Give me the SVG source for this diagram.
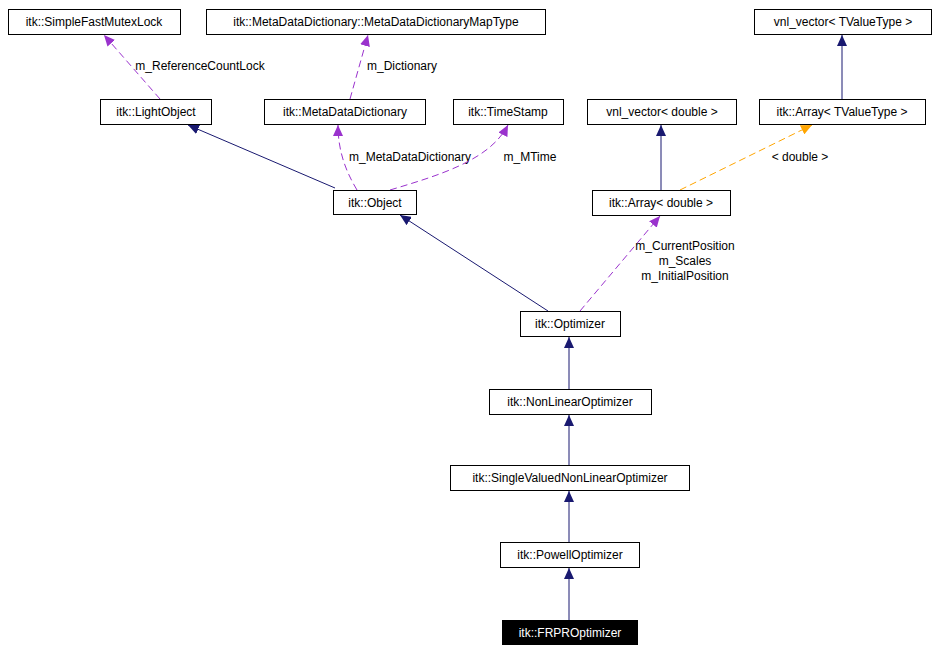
<svg xmlns="http://www.w3.org/2000/svg" width="939" height="652" viewBox="0 0 939 652">
<style>
.n rect{fill:#fff;stroke:#000;stroke-width:1}
text{font-family:"Liberation Sans",Arial,sans-serif;font-size:12px;fill:#000}
.n text{text-anchor:middle}
.s{stroke:#191970;fill:none;stroke-width:1}
.d{stroke:#9a32cd;fill:none;stroke-dasharray:7,4}
.o{stroke:#ffa500;fill:none;stroke-dasharray:7,4}
.l{text-anchor:middle}
</style>
<defs>
<marker id="as" markerWidth="12" markerHeight="10" refX="11" refY="5" orient="auto" markerUnits="userSpaceOnUse"><path d="M0,0L11,5L0,10z" fill="#191970"/></marker>
<marker id="ad" markerWidth="12" markerHeight="10" refX="11" refY="5" orient="auto" markerUnits="userSpaceOnUse"><path d="M0,0L11,5L0,10z" fill="#9a32cd"/></marker>
<marker id="ao" markerWidth="12" markerHeight="10" refX="11" refY="5" orient="auto" markerUnits="userSpaceOnUse"><path d="M0,0L11,5L0,10z" fill="#ffa500"/></marker>
</defs>
<rect width="939" height="652" fill="#fff"/>
<g id="edges">
<path class="d" d="M160,99 L104,35" marker-end="url(#ad)"/>
<text x="200" y="70" class="l">m_ReferenceCountLock</text>
<path class="d" d="M350,99 L368,35" marker-end="url(#ad)"/>
<text x="402" y="70" class="l">m_Dictionary</text>
<path class="s" d="M335,188 L188,125" marker-end="url(#as)"/>
<path class="d" d="M357,190 C345,170 338,150 338,125" marker-end="url(#ad)"/>
<text x="410" y="161" class="l">m_MetaDataDictionary</text>
<path class="d" d="M390,190 C440,175 490,160 508,125" marker-end="url(#ad)"/>
<text x="530" y="161" class="l">m_MTime</text>
<path class="s" d="M548,311 L400,215" marker-end="url(#as)"/>
<path class="d" d="M580,311 L660,216" marker-end="url(#ad)"/>
<text x="685" y="250" class="l">m_CurrentPosition</text>
<text x="685" y="265" class="l">m_Scales</text>
<text x="685" y="280" class="l">m_InitialPosition</text>
<path class="s" d="M661,190 L661,125" marker-end="url(#as)"/>
<path class="o" d="M680,190 L812,125" marker-end="url(#ao)"/>
<text x="800" y="161" class="l">&lt; double &gt;</text>
<path class="s" d="M842,99 L842,35" marker-end="url(#as)"/>
<path class="s" d="M569,389 L569,337" marker-end="url(#as)"/>
<path class="s" d="M569,465 L569,415" marker-end="url(#as)"/>
<path class="s" d="M569,542 L569,491" marker-end="url(#as)"/>
<path class="s" d="M569,620 L569,568" marker-end="url(#as)"/>
</g>
<g id="SimpleFastMutexLock" class="n"><rect x="8.5" y="9.5" width="172" height="25"/><text x="94" y="26">itk::SimpleFastMutexLock</text></g>
<g id="MapType" class="n"><rect x="206.5" y="9.5" width="339" height="25"/><text x="376" y="26">itk::MetaDataDictionary::MetaDataDictionaryMapType</text></g>
<g id="vnlT" class="n"><rect x="754.5" y="9.5" width="177" height="25"/><text x="843" y="26">vnl_vector&lt; TValueType &gt;</text></g>
<g id="LightObject" class="n"><rect x="100.5" y="99.5" width="111" height="25"/><text x="156" y="116">itk::LightObject</text></g>
<g id="MetaDataDictionary" class="n"><rect x="264.5" y="99.5" width="161" height="25"/><text x="345" y="116">itk::MetaDataDictionary</text></g>
<g id="TimeStamp" class="n"><rect x="453.5" y="99.5" width="110" height="25"/><text x="508" y="116">itk::TimeStamp</text></g>
<g id="vnlD" class="n"><rect x="587.5" y="99.5" width="149" height="25"/><text x="662" y="116">vnl_vector&lt; double &gt;</text></g>
<g id="ArrayT" class="n"><rect x="759.5" y="99.5" width="166" height="25"/><text x="842" y="116">itk::Array&lt; TValueType &gt;</text></g>
<g id="Object" class="n"><rect x="333.5" y="190.5" width="83" height="24"/><text x="375" y="207">itk::Object</text></g>
<g id="ArrayD" class="n"><rect x="592.5" y="190.5" width="138" height="25"/><text x="661" y="207">itk::Array&lt; double &gt;</text></g>
<g id="Optimizer" class="n"><rect x="520.5" y="311.5" width="100" height="25"/><text x="570" y="328">itk::Optimizer</text></g>
<g id="NonLinearOptimizer" class="n"><rect x="489.5" y="389.5" width="162" height="25"/><text x="570" y="406">itk::NonLinearOptimizer</text></g>
<g id="SVNLO" class="n"><rect x="450.5" y="465.5" width="239" height="25"/><text x="570" y="482">itk::SingleValuedNonLinearOptimizer</text></g>
<g id="PowellOptimizer" class="n"><rect x="500.5" y="542.5" width="139" height="25"/><text x="570" y="559">itk::PowellOptimizer</text></g>
<g id="FRPROptimizer" class="n"><rect x="502.5" y="620.5" width="135" height="24" style="fill:#000"/><text x="570" y="637" style="fill:#fff">itk::FRPROptimizer</text></g>
</svg>
